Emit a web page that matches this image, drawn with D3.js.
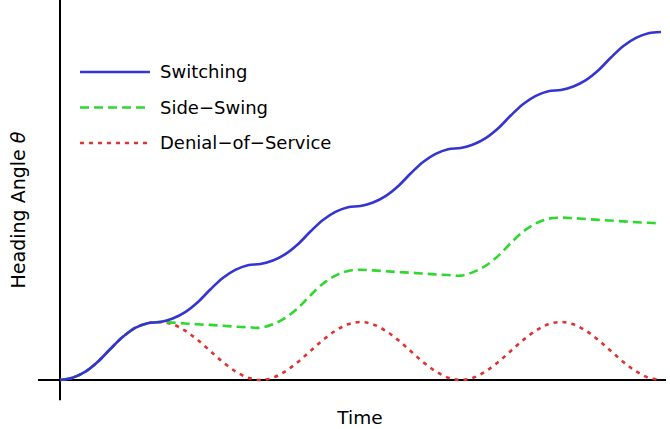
<!DOCTYPE html>
<html>
<head>
<meta charset="utf-8">
<title>Heading Angle</title>
<script src="https://d3js.org/d3.v7.min.js"></script>
<style>
  html, body { margin: 0; padding: 0; background: #fff; }
  svg { display: block; font-family: "DejaVu Sans", Verdana, sans-serif; }
</style>
</head>
<body>
<svg id="chart" width="670" height="429"></svg>
<script>
// time samples, every 1/8 of a switching period
var times = d3.range(0, 6.0001, 0.125);
// heading angle values
var switching = [0, 0.04, 0.14, 0.31, 0.53, 0.74, 0.90, 0.98, 1.00,
                 1.06, 1.17, 1.34, 1.56, 1.76, 1.90, 1.98, 2.00,
                 2.06, 2.17, 2.34, 2.56, 2.76, 2.90, 2.98, 3.00,
                 3.06, 3.17, 3.34, 3.56, 3.76, 3.90, 3.98, 4.00,
                 4.06, 4.17, 4.34, 4.56, 4.76, 4.90, 4.98, 5.00,
                 5.06, 5.17, 5.34, 5.56, 5.76, 5.90, 5.98, 6.00];
var sideSwing = [0, 0.04, 0.14, 0.31, 0.53, 0.74, 0.90, 0.98, 1.00,
                 0.99, 0.975, 0.96, 0.95, 0.935, 0.92, 0.91, 0.90,
                 0.96, 1.07, 1.24, 1.46, 1.66, 1.80, 1.88, 1.90,
                 1.89, 1.875, 1.86, 1.85, 1.835, 1.82, 1.81, 1.80,
                 1.86, 1.97, 2.14, 2.36, 2.56, 2.70, 2.78, 2.80,
                 2.79, 2.775, 2.76, 2.75, 2.735, 2.72, 2.71, 2.70];
var denial = [0, 0.04, 0.14, 0.31, 0.53, 0.74, 0.90, 0.98, 1.00,
              0.96, 0.85, 0.69, 0.50, 0.31, 0.15, 0.04, 0,
              0.04, 0.15, 0.31, 0.50, 0.69, 0.85, 0.96, 1.00,
              0.96, 0.85, 0.69, 0.50, 0.31, 0.15, 0.04, 0,
              0.04, 0.15, 0.31, 0.50, 0.69, 0.85, 0.96, 1.00,
              0.96, 0.85, 0.69, 0.50, 0.31, 0.15, 0.04, 0];
var seriesNames = ["Switching", "Side\u2212Swing", "Denial\u2212of\u2212Service"];

var svg = d3.select("#chart");

var x = d3.scaleLinear().domain([0, 6]).range([60, 661]);
var y = d3.scaleLinear().domain([0, 6]).range([380, 32]);

var styles = [
  { color: "#3434d2", dash: null },
  { color: "#2ed82e", dash: "9,5" },
  { color: "#e03232", dash: "4,5" }
];
var allSeries = [switching, sideSwing, denial];

// axes: plain lines, no ticks
svg.append("line")
  .attr("x1", x(0)).attr("x2", x(0))
  .attr("y1", y(6.58)).attr("y2", y(-0.35))
  .attr("stroke", "#000").attr("stroke-width", 2);
svg.append("line")
  .attr("x1", x(-0.22)).attr("x2", x(6.05))
  .attr("y1", y(0)).attr("y2", y(0))
  .attr("stroke", "#000").attr("stroke-width", 2);

var line = d3.line()
  .x(function(d, i) { return x(times[i]); })
  .y(function(d) { return y(d); })
  .curve(d3.curveCatmullRom.alpha(0.5));

// draw in reverse so switching ends up on top
for (var k = allSeries.length - 1; k >= 0; k--) {
  svg.append("path")
    .attr("d", line(allSeries[k]))
    .attr("fill", "none")
    .attr("stroke", styles[k].color)
    .attr("stroke-width", 2.6)
    .attr("stroke-dasharray", styles[k].dash);
}

// legend
var legend = svg.append("g");
seriesNames.forEach(function(name, i) {
  var ly = 72 + i * 35.5;
  legend.append("line")
    .attr("x1", 80).attr("x2", 150)
    .attr("y1", ly).attr("y2", ly)
    .attr("stroke", styles[i].color)
    .attr("stroke-width", 2.6)
    .attr("stroke-dasharray", styles[i].dash);
  legend.append("text")
    .attr("x", 160).attr("y", ly + 6)
    .attr("font-size", 18)
    .text(name);
});

// axis labels
svg.append("text")
  .attr("x", 360).attr("y", 424)
  .attr("text-anchor", "middle")
  .attr("font-size", 18.5)
  .text("Time");

var yl = svg.append("text")
  .attr("transform", "translate(25,210) rotate(-90)")
  .attr("text-anchor", "middle")
  .attr("font-size", 19);
yl.append("tspan").text("Heading Angle ");
yl.append("tspan").attr("font-style", "italic").text("\u03b8");
</script>
</body>
</html>
